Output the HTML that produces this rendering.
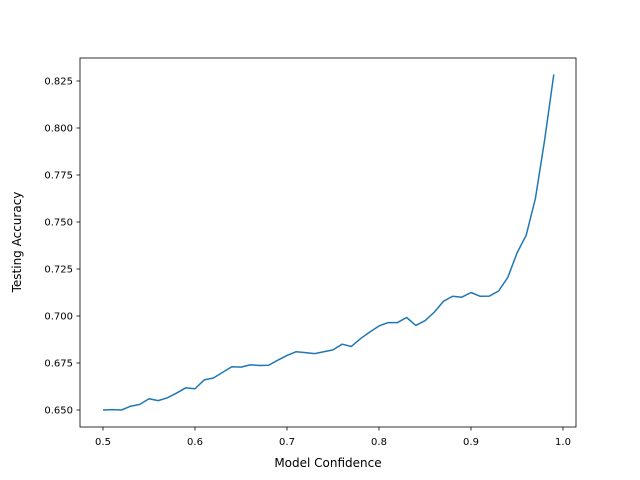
<!DOCTYPE html>
<html><head><meta charset="utf-8"><style>body{margin:0;background:#fff}svg{display:block;font-family:"DejaVu Sans","Liberation Sans",sans-serif}</style></head>
<body>
<svg id="chart" width="640" height="480">
<rect x="0" y="0" width="640" height="480" fill="#fff"/>
<g id="ticks"></g>
<path id="line" fill="none" stroke="#1f77b4" stroke-width="1.5" stroke-linejoin="round"/>
<rect x="80" y="58" width="496" height="369" fill="none" stroke="#000" stroke-width="0.8"/>
<text x="328" y="467" text-anchor="middle" font-size="12">Model Confidence</text>
<text transform="translate(21,242) rotate(-90)" text-anchor="middle" font-size="12">Testing Accuracy</text>
</svg>
<script>
const confidence = [0.50,0.51,0.52,0.53,0.54,0.55,0.56,0.57,0.58,0.59,0.60,0.61,0.62,0.63,0.64,0.65,0.66,0.67,0.68,0.69,0.70,0.71,0.72,0.73,0.74,0.75,0.76,0.77,0.78,0.79,0.80,0.81,0.82,0.83,0.84,0.85,0.86,0.87,0.88,0.89,0.90,0.91,0.92,0.93,0.94,0.95,0.96,0.97,0.98,0.99];
const accuracy = [0.650,0.6502,0.650,0.652,0.653,0.656,0.655,0.6565,0.659,0.6618,0.6613,0.666,0.667,0.670,0.673,0.6728,0.674,0.6737,0.6738,0.6765,0.679,0.681,0.6805,0.680,0.681,0.682,0.685,0.6838,0.688,0.6915,0.6947,0.6965,0.6965,0.6992,0.695,0.6975,0.702,0.7078,0.7105,0.710,0.7125,0.7105,0.7106,0.7133,0.7205,0.7335,0.743,0.7625,0.7935,0.8285];
const xTicks = [0.5,0.6,0.7,0.8,0.9,1.0];
const xTickLabels = ["0.5","0.6","0.7","0.8","0.9","1.0"];
const yTicks = [0.650,0.675,0.700,0.725,0.750,0.775,0.800,0.825];
const yTickLabels = ["0.650","0.675","0.700","0.725","0.750","0.775","0.800","0.825"];
const X = v => 103 + (v - 0.5) * 920;
const Y = v => 410 - (v - 0.65) * 1880;
const NS = "http://www.w3.org/2000/svg";
const g = document.getElementById('ticks');
function mk(tag, attrs){const e=document.createElementNS(NS,tag);for(const k in attrs)e.setAttribute(k,attrs[k]);g.appendChild(e);return e;}
xTicks.forEach((v,i)=>{
  const t = mk('line',{x1:X(v),x2:X(v),y1:427,y2:430.5,stroke:'#000','stroke-width':0.8});
  
  
  const l = mk('text',{x:X(v),y:445,'text-anchor':'middle','font-size':10});
  l.textContent = xTickLabels[i];
  
  
});
yTicks.forEach((v,i)=>{
  const t = mk('line',{x1:76.5,x2:80,y1:Y(v),y2:Y(v),stroke:'#000','stroke-width':0.8});
  
  
  const l = mk('text',{x:73,y:Y(v)+3.5,'text-anchor':'end','font-size':10});
  l.textContent = yTickLabels[i];
  
  
});
document.getElementById('line').setAttribute('d', confidence.map((c,i)=>(i?'L':'M')+X(c).toFixed(2)+','+Y(accuracy[i]).toFixed(2)).join(''));
</script>
</body></html>
